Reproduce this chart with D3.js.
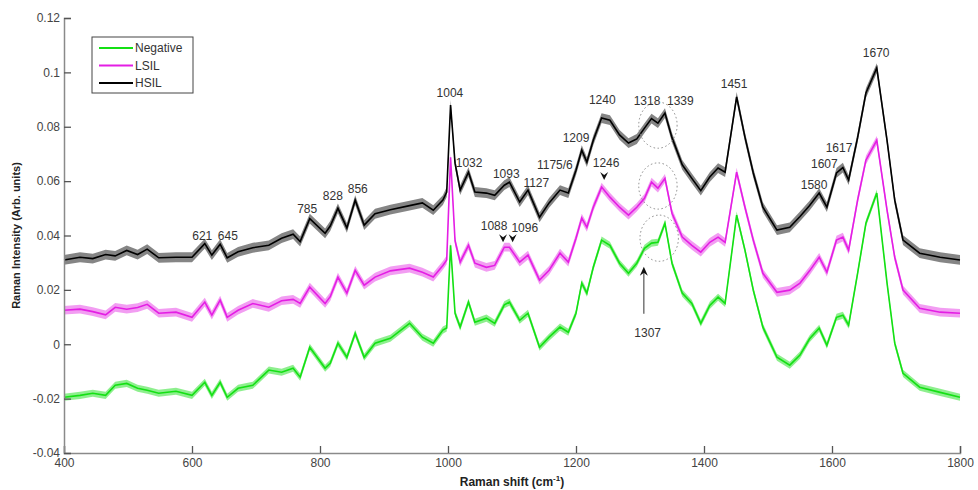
<!DOCTYPE html>
<html>
<head>
<meta charset="utf-8">
<script src="https://cdn.jsdelivr.net/npm/d3@7"></script>
<style>
  body { margin: 0; background: #fff; }
  svg { display: block; font-family: "Liberation Sans", Arial, sans-serif; }
</style>
</head>
<body>
<svg width="978" height="490"></svg>
<script>
// Raman shift grid (cm-1), shared by all three mean spectra
const shifts = [400, 425, 445, 465, 480, 498, 515, 530, 548, 575, 600, 620, 631, 644, 655, 672, 695,
    720, 740, 758, 769, 784, 808, 816, 828, 842, 855, 869, 886, 910, 940, 960, 977, 992, 998,
    1004, 1011, 1019, 1032, 1042, 1060, 1073, 1088, 1096, 1112, 1125, 1143, 1158, 1175, 1188,
    1200, 1209, 1217, 1227, 1240, 1253, 1268, 1282, 1295, 1307, 1318, 1328, 1339, 1350, 1366,
    1381, 1395, 1409, 1422, 1433, 1451, 1464, 1477, 1492, 1514, 1534, 1550, 1565, 1580, 1592,
    1607, 1617, 1626, 1640, 1653, 1670, 1686, 1698, 1711, 1737, 1769, 1800];

const hsil = [0.031, 0.032, 0.0315, 0.033, 0.0325, 0.0345, 0.033, 0.035, 0.0318, 0.032, 0.032, 0.037,
    0.0328, 0.0368, 0.0318, 0.034, 0.0355, 0.0364, 0.039, 0.0405, 0.0378, 0.0462, 0.0408, 0.0435,
    0.050, 0.0428, 0.053, 0.0438, 0.048, 0.0495, 0.051, 0.052, 0.0493, 0.053, 0.056, 0.088, 0.0666,
    0.0567, 0.0633, 0.056, 0.0556, 0.0548, 0.0585, 0.0596, 0.0523, 0.0567, 0.0467, 0.052, 0.0567,
    0.0556, 0.064, 0.0714, 0.067, 0.075, 0.0832, 0.0824, 0.077, 0.074, 0.0755, 0.0795, 0.083,
    0.0813, 0.085, 0.076, 0.066, 0.061, 0.0565, 0.0615, 0.0648, 0.0633, 0.091, 0.0762, 0.063,
    0.0504, 0.042, 0.043, 0.047, 0.051, 0.0556, 0.0504, 0.063, 0.065, 0.0604, 0.076, 0.0924,
    0.1016, 0.075, 0.053, 0.0383, 0.0335, 0.032, 0.031];

const lsil = [0.0125, 0.0129, 0.012, 0.0108, 0.0136, 0.0129, 0.0135, 0.0147, 0.0114, 0.0118, 0.0099,
    0.0155, 0.0107, 0.0162, 0.0099, 0.0125, 0.015, 0.0136, 0.016, 0.0165, 0.015, 0.021, 0.015,
    0.0175, 0.0247, 0.0188, 0.0272, 0.0217, 0.0247, 0.027, 0.028, 0.0265, 0.0247, 0.029, 0.031,
    0.0688, 0.038, 0.0302, 0.0364, 0.0298, 0.0283, 0.029, 0.0357, 0.0357, 0.0302, 0.0328, 0.0236,
    0.0272, 0.0335, 0.0302, 0.039, 0.0464, 0.043, 0.0504, 0.0578, 0.0541, 0.0504, 0.0475, 0.0504,
    0.0537, 0.0596, 0.0574, 0.061, 0.0482, 0.0394, 0.0364, 0.0339, 0.0375, 0.0394, 0.0375, 0.0633,
    0.0504, 0.0383, 0.0261, 0.0191, 0.0199, 0.0225, 0.027, 0.032, 0.0265, 0.0383, 0.0394, 0.0346,
    0.053, 0.0677, 0.075, 0.0493, 0.032, 0.0199, 0.0132, 0.0118, 0.0114];

const negative = [-0.0195, -0.0188, -0.018, -0.0188, -0.0151, -0.0144, -0.0162, -0.0169, -0.018,
    -0.0173, -0.0188, -0.014, -0.0188, -0.014, -0.0195, -0.0162, -0.0151, -0.0095, -0.0103, -0.0088,
    -0.0121, -0.0011, -0.0088, -0.007, 0.0004, -0.0048, 0.004, -0.0048, 0.0004, 0.0022, 0.0077,
    0.0026, 0.0004, 0.0052, 0.006, 0.0364, 0.0114, 0.0063, 0.0155, 0.0081, 0.0096, 0.0077, 0.0145,
    0.0155, 0.0088, 0.0114, -0.0011, 0.0026, 0.0063, 0.0044, 0.0114, 0.0225, 0.0188, 0.0283,
    0.0383, 0.0364, 0.0298, 0.0261, 0.0298, 0.0353, 0.0372, 0.0375, 0.0445, 0.0298, 0.0188, 0.015,
    0.0077, 0.0143, 0.0173, 0.015, 0.0475, 0.0346, 0.0199, 0.0063, -0.0048, -0.0077, -0.004, 0.002,
    0.0059, -0.0004, 0.0099, 0.0107, 0.007, 0.0261, 0.0445, 0.0556, 0.0225, 0.0004, -0.0107,
    -0.0158, -0.0177, -0.0195];

// spread of each group (half width of the shaded band)
const seriesNames = ['Negative', 'LSIL', 'HSIL'];
const seriesSpread = [0.0013, 0.0016, 0.0018];

const xTicks = [400, 600, 800, 1000, 1200, 1400, 1600, 1800];
const yTicks = [-0.04, -0.02, 0, 0.02, 0.04, 0.06, 0.08, 0.1, 0.12];

// peak labels: [text, shift, intensity at the label baseline]
const peakLabels = [
    ['621', 616, 0.0383], ['645', 656, 0.0383], ['785', 780, 0.0482], ['828', 820, 0.053],
    ['856', 859, 0.0556], ['1004', 1003, 0.0909], ['1032', 1033, 0.0652], ['1093', 1091, 0.0611],
    ['1127', 1138, 0.0578], ['1175/6', 1167, 0.0644], ['1209', 1200, 0.0744], ['1240', 1241, 0.0883],
    ['1318', 1311, 0.088], ['1339', 1363, 0.088], ['1451', 1447, 0.0942], ['1670', 1669, 0.1056],
    ['1617', 1611, 0.0707], ['1607', 1588, 0.0648], ['1580', 1572, 0.057],
    ['1246', 1247, 0.0652], ['1088', 1072, 0.042], ['1096', 1120, 0.0412], ['1307', 1312, 0.0026]
];
// arrowheads pointing at LSIL bands: [shift, intensity of the tip]
const arrowTips = [[1086, 0.0375], [1101, 0.0375], [1244, 0.0604]];
// dotted circles round the 1318/1339 doublet: [centre shift, centre intensity]
const doubletRings = [[1328, 0.0806], [1328, 0.0582], [1330, 0.039]];

const colors = ['#14e014', '#e41ee4', '#000000'];
const bandColors = ['#7aec7a', '#f08cf0', '#707070'];

function drawChart() {
    const svg = d3.select("svg");
    const margin = { left: 64, right: 18, top: 18, bottom: 37 };
    const width = 978, height = 490;

    const scX = d3.scaleLinear().domain([400, 1800]).range([margin.left, width - margin.right]);
    const scY = d3.scaleLinear().domain([-0.04, 0.12]).range([height - margin.bottom, margin.top]);

    const allSeries = [negative, lsil, hsil];

    // shaded bands first, then the mean lines
    const area = d3.area()
        .x((d, i) => scX(shifts[i]))
        .y0(d => scY(d[0]))
        .y1(d => scY(d[1]));
    allSeries.forEach((s, k) => {
        svg.append("path")
            .attr("d", area(s.map(v => [v - seriesSpread[k], v + seriesSpread[k]])))
            .attr("fill", bandColors[k])
            .attr("opacity", 0.85);
    });

    const line = d3.line()
        .x((d, i) => scX(shifts[i]))
        .y(d => scY(d));
    allSeries.forEach((s, k) => {
        svg.append("path")
            .attr("d", line(s))
            .attr("fill", "none")
            .attr("stroke", colors[k])
            .attr("stroke-width", 1.6);
    });

    // axes: only left and bottom, ticks inward
    const axisX = d3.axisBottom(scX).tickValues(xTicks).tickSize(-7).tickPadding(5)
        .tickFormat(d3.format("d"));
    const axisY = d3.axisLeft(scY).tickValues(yTicks).tickSize(-7).tickPadding(4)
        .tickFormat(d => String(+d.toFixed(2)));

    const gx = svg.append("g")
        .attr("transform", `translate(0, ${height - margin.bottom})`)
        .call(axisX);
    const gy = svg.append("g")
        .attr("transform", `translate(${margin.left}, 0)`)
        .call(axisY);
    [gx, gy].forEach(g => {
        g.select(".domain").attr("stroke", "#8a8a8a").attr("stroke-width", 1.5);
        g.selectAll(".tick line").attr("stroke", "#555").attr("stroke-width", 1.3);
        g.selectAll(".tick text").attr("fill", "#444").style("font-size", "12px")
            .style("font-family", "Liberation Sans, Arial, sans-serif");
    });

    const xl = svg.append("text")
        .attr("x", (margin.left + width - margin.right) / 2)
        .attr("y", 486)
        .attr("text-anchor", "middle")
        .style("font-size", "12px")
        .style("font-weight", "bold")
        .attr("fill", "#222");
    xl.append("tspan").text("Raman shift (cm");
    xl.append("tspan").attr("dy", -5).style("font-size", "8px").text("-1");
    xl.append("tspan").attr("dy", 5).text(")");

    svg.append("text")
        .attr("transform", `translate(20, ${(margin.top + height - margin.bottom) / 2}) rotate(-90)`)
        .attr("text-anchor", "middle")
        .style("font-size", "11px")
        .style("font-weight", "bold")
        .attr("fill", "#222")
        .text("Raman Intensity (Arb. units)");

    // peak annotations
    svg.selectAll(".peak")
        .data(peakLabels).enter()
        .append("text")
        .attr("class", "peak")
        .attr("x", d => scX(d[1]))
        .attr("y", d => scY(d[2]))
        .attr("text-anchor", "middle")
        .style("font-size", "12px")
        .attr("fill", "#333")
        .text(d => d[0]);

    svg.selectAll(".tip")
        .data(arrowTips).enter()
        .append("path")
        .attr("class", "tip")
        .attr("d", d => {
            const x = scX(d[0]), y = scY(d[1]);
            return `M${x},${y} L${x - 4},${y - 8} L${x},${y - 5} L${x + 4},${y - 8} Z`;
        })
        .attr("fill", "#111");

    // arrow up to the 1307 shoulder
    const ax = scX(1306), ay = scY(0.0285);
    svg.append("line")
        .attr("x1", ax).attr("x2", ax)
        .attr("y1", ay + 4).attr("y2", scY(0.0112))
        .attr("stroke", "#555").attr("stroke-width", 1.2);
    svg.append("path")
        .attr("d", `M${ax},${ay} L${ax - 4},${ay + 9} L${ax},${ay + 6} L${ax + 4},${ay + 9} Z`)
        .attr("fill", "#111");

    svg.selectAll(".ring")
        .data(doubletRings).enter()
        .append("ellipse")
        .attr("class", "ring")
        .attr("cx", d => scX(d[0]))
        .attr("cy", d => scY(d[1]))
        .attr("rx", scX(1330) - scX(1300))
        .attr("ry", scY(0) - scY(0.0085))
        .attr("fill", "none")
        .attr("stroke", "#888")
        .attr("stroke-width", 1)
        .attr("stroke-dasharray", "1.5,2.5");

    // legend
    const lg = svg.append("g").attr("transform", "translate(92, 37)");
    lg.append("rect")
        .attr("width", 101).attr("height", 56)
        .attr("fill", "#fff").attr("stroke", "#444").attr("stroke-width", 1);
    seriesNames.forEach((name, k) => {
        const y = 11 + k * 17.5;
        lg.append("line")
            .attr("x1", 7).attr("x2", 41).attr("y1", y).attr("y2", y)
            .attr("stroke", colors[k]).attr("stroke-width", 2);
        lg.append("text")
            .attr("x", 43).attr("y", y + 4)
            .style("font-size", "12px")
            .attr("fill", "#333")
            .text(name);
    });
}

drawChart();
</script>
</body>
</html>
